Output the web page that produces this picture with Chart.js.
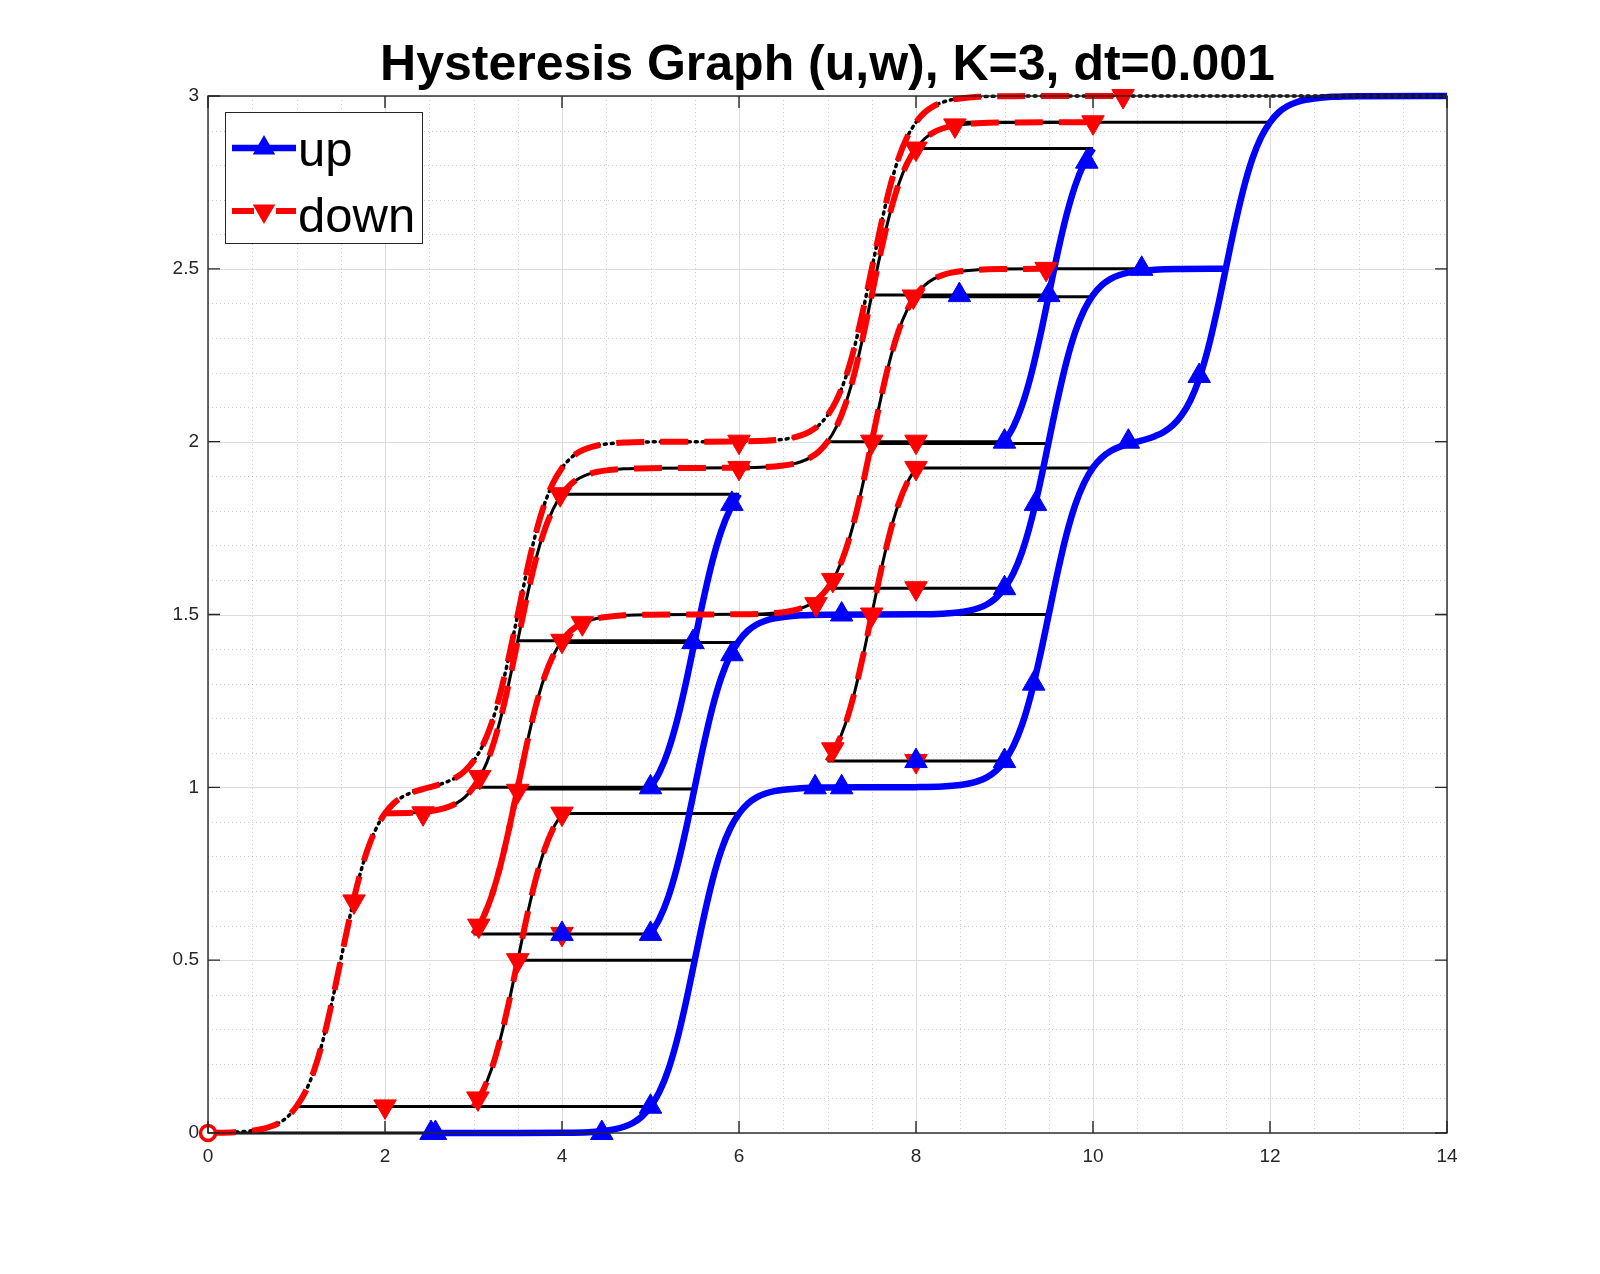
<!DOCTYPE html>
<html>
<head>
<meta charset="utf-8">
<script src="https://cdn.jsdelivr.net/npm/chart.js@4.4.1/dist/chart.umd.min.js"></script>
<style>
html,body{margin:0;padding:0;background:#fff;}
canvas{display:block;}
</style>
</head>
<body>
<canvas id="c" width="1600" height="1274"></canvas>
<script>
// ---------- data (u on x, w on y) ----------
const titleText = 'Hysteresis Graph (u,w), K=3, dt=0.001';
const seriesNames = ['up', 'down'];
const xTicks = [0, 2, 4, 6, 8, 10, 12, 14];
const xTickLabels = ['0', '2', '4', '6', '8', '10', '12', '14'];
const yTicks = [0, 0.5, 1, 1.5, 2, 2.5, 3];
const yTickLabels = ['0', '0.5', '1', '1.5', '2', '2.5', '3'];

// main ascending branch (blue)
const upMain = [[2.5,0],[3.5,0],[4.0,0.0006],[4.3,0.0025],[4.5,0.0067],[4.6,0.011],[4.7,0.018],[4.8,0.029],[4.9,0.047],[5.0,0.076],[5.1,0.119],[5.2,0.182],[5.3,0.269],[5.4,0.378],[5.5,0.5],[5.6,0.622],[5.7,0.731],[5.8,0.818],[5.9,0.881],[6.0,0.924],[6.1,0.953],[6.2,0.971],[6.3,0.982],[6.4,0.989],[6.5,0.993],[6.7,0.9975],[7.0,0.9994],[7.5,1.0],[8.0,1.0006],[8.3,1.0025],[8.5,1.0067],[8.6,1.011],[8.7,1.018],[8.8,1.029],[8.9,1.047],[9.0,1.076],[9.1,1.119],[9.2,1.182],[9.3,1.269],[9.4,1.378],[9.5,1.5],[9.6,1.622],[9.7,1.731],[9.8,1.818],[9.9,1.881],[10.0,1.925],[10.1,1.954],[10.2,1.973],[10.3,1.985],[10.4,1.993],[10.5,2.0],[10.6,2.007],[10.7,2.016],[10.8,2.028],[10.9,2.047],[11.0,2.076],[11.1,2.119],[11.2,2.182],[11.3,2.269],[11.4,2.378],[11.5,2.5],[11.6,2.622],[11.7,2.731],[11.8,2.818],[11.9,2.881],[12.0,2.924],[12.1,2.953],[12.2,2.971],[12.3,2.982],[12.4,2.989],[12.5,2.993],[12.7,2.9975],[13.0,2.9994],[14.0,3.0]];
// inner ascending branches (blue)
const upInnerA = [[5.0,0.576],[5.1,0.619],[5.2,0.682],[5.3,0.769],[5.4,0.878],[5.5,1.0],[5.6,1.122],[5.7,1.231],[5.8,1.318],[5.9,1.381],[6.0,1.424],[6.1,1.453],[6.2,1.471],[6.3,1.482],[6.4,1.489],[6.5,1.493],[6.7,1.4975],[7.0,1.4994],[8.0,1.5006],[8.3,1.5025],[8.5,1.5067],[8.6,1.511],[8.7,1.518],[8.8,1.529],[8.9,1.547],[9.0,1.576],[9.1,1.619],[9.2,1.682],[9.3,1.769],[9.4,1.878],[9.5,2.0],[9.6,2.122],[9.7,2.231],[9.8,2.318],[9.9,2.381],[10.0,2.424],[10.1,2.453],[10.2,2.471],[10.3,2.482],[10.4,2.489],[10.5,2.493],[10.7,2.4975],[11.0,2.4994],[11.5,2.5]];
const upInnerB = [[5.0,1.0],[5.1,1.043],[5.2,1.106],[5.3,1.193],[5.4,1.302],[5.5,1.424],[5.6,1.546],[5.7,1.655],[5.8,1.742],[5.9,1.805],[6.0,1.848]];
const upInnerC = [[9.0,2.0],[9.1,2.043],[9.2,2.106],[9.3,2.193],[9.4,2.302],[9.5,2.424],[9.6,2.546],[9.7,2.655],[9.8,2.742],[9.9,2.805],[10.0,2.848]];

// main descending branch (red, black dotted underneath)
const downMain = [[0,0],[0.3,0.0025],[0.5,0.0067],[0.6,0.011],[0.7,0.018],[0.8,0.029],[0.9,0.047],[1.0,0.077],[1.1,0.119],[1.2,0.182],[1.3,0.269],[1.4,0.378],[1.5,0.5],[1.6,0.622],[1.7,0.731],[1.8,0.818],[1.9,0.881],[2.0,0.925],[2.1,0.954],[2.2,0.973],[2.3,0.985],[2.4,0.993],[2.5,1.0],[2.6,1.007],[2.7,1.016],[2.8,1.028],[2.9,1.047],[3.0,1.076],[3.1,1.119],[3.2,1.182],[3.3,1.269],[3.4,1.378],[3.5,1.5],[3.6,1.622],[3.7,1.731],[3.8,1.818],[3.9,1.881],[4.0,1.924],[4.1,1.953],[4.2,1.971],[4.3,1.982],[4.4,1.989],[4.5,1.993],[4.7,1.9975],[5.0,1.9994],[5.5,2.0],[6.0,2.0006],[6.3,2.0025],[6.5,2.0067],[6.6,2.011],[6.7,2.018],[6.8,2.029],[6.9,2.047],[7.0,2.076],[7.1,2.119],[7.2,2.182],[7.3,2.269],[7.4,2.378],[7.5,2.5],[7.6,2.622],[7.7,2.731],[7.8,2.818],[7.9,2.881],[8.0,2.924],[8.1,2.953],[8.2,2.971],[8.3,2.982],[8.4,2.989],[8.5,2.993],[8.7,2.9975],[9.0,2.9994],[10.34,3.0],[14.0,3.0]];
const downRedEnd = 10.34;
// inner descending branches (red, black solid underneath)
const downInnerA = [[2.0,0.925],[2.3,0.9265],[2.5,0.931],[2.6,0.935],[2.7,0.942],[2.8,0.953],[2.9,0.971],[3.0,1.0],[3.1,1.043],[3.2,1.106],[3.3,1.193],[3.4,1.302],[3.5,1.424],[3.6,1.546],[3.7,1.655],[3.8,1.742],[3.9,1.805],[4.0,1.848],[4.1,1.877],[4.2,1.895],[4.3,1.906],[4.4,1.913],[4.5,1.917],[4.7,1.9215],[5.0,1.9234],[6.0,1.9246],[6.3,1.9265],[6.5,1.931],[6.6,1.935],[6.7,1.942],[6.8,1.953],[6.9,1.971],[7.0,2.0],[7.1,2.043],[7.2,2.106],[7.3,2.193],[7.4,2.302],[7.5,2.424],[7.6,2.546],[7.7,2.655],[7.8,2.742],[7.9,2.805],[8.0,2.848],[8.1,2.877],[8.2,2.895],[8.3,2.906],[8.4,2.913],[8.5,2.917],[8.7,2.9215],[9.0,2.9234],[10.0,2.924]];
const downInnerB = [[3.0,0.576],[3.1,0.619],[3.2,0.682],[3.3,0.769],[3.4,0.878],[3.5,1.0],[3.6,1.122],[3.7,1.231],[3.8,1.318],[3.9,1.381],[4.0,1.424],[4.1,1.453],[4.2,1.471],[4.3,1.482],[4.4,1.489],[4.5,1.493],[4.7,1.4975],[5.0,1.4994],[6.0,1.5006],[6.3,1.5025],[6.5,1.5067],[6.6,1.511],[6.7,1.518],[6.8,1.529],[6.9,1.547],[7.0,1.576],[7.1,1.619],[7.2,1.682],[7.3,1.769],[7.4,1.878],[7.5,2.0],[7.6,2.122],[7.7,2.231],[7.8,2.318],[7.9,2.381],[8.0,2.424],[8.1,2.453],[8.2,2.471],[8.3,2.482],[8.4,2.489],[8.5,2.493],[8.7,2.4975],[9.0,2.4994],[9.5,2.5]];
const downInnerBRepeatEnd = 3.6;   // this stretch is traversed twice (looks solid)
const downInnerC = [[7.0,1.076],[7.1,1.119],[7.2,1.182],[7.3,1.269],[7.4,1.378],[7.5,1.5],[7.6,1.622],[7.7,1.731],[7.8,1.818],[7.9,1.881],[8.0,1.924]];
const downInnerD = [[3.0,0.076],[3.1,0.119],[3.2,0.182],[3.3,0.269],[3.4,0.378],[3.5,0.5],[3.6,0.622],[3.7,0.731],[3.8,0.818],[3.9,0.881],[4.0,0.924]];

// constant-w stretches of the trajectory: [u from, u to, w]
const flats = [[0,2.6,0],[1.0,5.0,0.077],[3.5,5.5,0.5],[3.0,5.0,0.576],[4.0,6.0,0.924],[3.0,5.0,1.0],[3.5,5.5,0.995],[3.5,5.5,1.424],[4.0,6.0,1.419],[4.0,6.0,1.848],[6.0,9.5,1.5],[7.0,9.0,1.576],[7.0,9.0,1.076],[8.0,10.0,1.924],[7.0,9.0,2.0],[7.5,9.5,1.995],[7.5,9.5,2.424],[8.0,10.0,2.419],[9.5,11.5,2.5],[8.0,10.0,2.848],[8.5,12.0,2.924]];

// marker positions
const upMarkers = [[2.52,0],[2.57,0],[4.45,0],[5.0,0.076],[5.0,0.576],[5.0,1.0],[5.48,1.42],[5.92,1.385],[5.92,1.82],[4.0,0.576],[6.86,1.0],[7.16,1.0],[7.16,1.5],[8.0,1.076],[9.0,1.076],[9.33,1.3],[9.0,1.576],[9.35,1.82],[9.0,2.0],[9.5,2.424],[8.49,2.424],[9.93,2.81],[10.4,2.0],[10.55,2.5],[11.2,2.19]];
const downMarkers = [[1.65,0.67],[2.0,0.077],[2.43,0.925],[3.05,0.1],[3.06,0.6],[3.07,1.03],[3.5,0.5],[3.5,0.99],[4.0,0.924],[4.0,0.576],[4.0,1.424],[3.98,1.848],[4.23,1.475],[6.0,2.0],[6.0,1.924],[6.87,1.53],[7.06,1.6],[7.06,1.11],[7.5,2.0],[7.5,1.5],[8.0,2.0],[8.0,1.924],[8.0,1.576],[8.0,1.076],[7.97,2.42],[8.0,2.848],[8.44,2.915],[9.47,2.5],[10.0,2.924],[10.34,3.0]];
const startPoint = [[0,0]];

// ---------- styles ----------
const BLUE = '#0000ff', RED = '#ff0000', BLACK = '#000000', AXIS = '#262626';
const FONT = "'Liberation Sans', Arial, Helvetica, sans-serif";
const xy = a => a.map(p => ({x: p[0], y: p[1]}));

const datasets = [];
flats.forEach(f => datasets.push({data: [{x: f[0], y: f[2]}, {x: f[1], y: f[2]}], borderColor: BLACK, borderWidth: 3, order: 6}));
[downInnerA, downInnerB, downInnerC, downInnerD].forEach(c => datasets.push({data: xy(c), borderColor: BLACK, borderWidth: 3, cubicInterpolationMode: 'monotone', order: 6}));
[upMain, upInnerA, upInnerB, upInnerC].forEach(c => datasets.push({data: xy(c), borderColor: BLUE, borderWidth: 6.5, cubicInterpolationMode: 'monotone', order: 5}));
datasets.push({data: xy(downMain), borderColor: BLACK, borderWidth: 3.5, borderDash: [2, 5], borderCapStyle: 'round', cubicInterpolationMode: 'monotone', order: 4});
[downMain.filter(p => p[0] <= downRedEnd), downInnerA, downInnerB, downInnerC, downInnerD].forEach(c => datasets.push({data: xy(c), borderColor: RED, borderWidth: 6, borderDash: [28, 16], cubicInterpolationMode: 'monotone', order: 3}));
datasets.push({data: xy(downInnerB.filter(p => p[0] <= downInnerBRepeatEnd)), borderColor: RED, borderWidth: 6, borderDash: [28, 16], borderDashOffset: 22, cubicInterpolationMode: 'monotone', order: 3});
datasets.push({data: xy(downMarkers), showLine: false, pointStyle: 'triangle', rotation: 180, pointRadius: 13, backgroundColor: RED, borderColor: RED, borderWidth: 1, order: 2});
datasets.push({data: xy(upMarkers), showLine: false, pointStyle: 'triangle', pointRadius: 13, backgroundColor: BLUE, borderColor: BLUE, borderWidth: 1, order: 1});
datasets.push({data: xy(startPoint), showLine: false, pointStyle: 'circle', pointRadius: 7.5, backgroundColor: '#ffffff', borderColor: RED, borderWidth: 3.5, order: 0});
datasets.forEach(d => { d.clip = false; if (d.showLine !== false) { d.showLine = true; d.pointRadius = 0; d.pointHoverRadius = 0; } });

const framePlugin = {
  id: 'frame',
  beforeDraw(chart) {
    const ctx = chart.ctx;
    ctx.save();
    ctx.fillStyle = '#ffffff';
    ctx.fillRect(0, 0, chart.width, chart.height);
    ctx.restore();
  },
  beforeDatasetsDraw(chart) {
    const {ctx, chartArea: a, scales: {x, y}} = chart;
    ctx.save();
    ctx.lineWidth = 1;
    // minor grid (dotted)
    ctx.strokeStyle = 'rgba(0,0,0,0.2)';
    ctx.setLineDash([1, 3]);
    for (let k = 1; k < 28; k++) {
      const px = Math.round(x.getPixelForValue(k * 0.5)) + 0.5;
      ctx.beginPath(); ctx.moveTo(px, a.top); ctx.lineTo(px, a.bottom); ctx.stroke();
    }
    for (let k = 1; k < 30; k++) {
      const py = Math.round(y.getPixelForValue(k * 0.1)) + 0.5;
      ctx.beginPath(); ctx.moveTo(a.left, py); ctx.lineTo(a.right, py); ctx.stroke();
    }
    // major grid (solid)
    ctx.setLineDash([]);
    ctx.strokeStyle = '#dcdcdc';
    xTicks.forEach(v => {
      const px = Math.round(x.getPixelForValue(v)) + 0.5;
      ctx.beginPath(); ctx.moveTo(px, a.top); ctx.lineTo(px, a.bottom); ctx.stroke();
    });
    yTicks.forEach(v => {
      const py = Math.round(y.getPixelForValue(v)) + 0.5;
      ctx.beginPath(); ctx.moveTo(a.left, py); ctx.lineTo(a.right, py); ctx.stroke();
    });
    ctx.restore();
  },
  afterDraw(chart) {
    const {ctx, chartArea: a, scales: {x, y}} = chart;
    ctx.save();
    // axes box and inward ticks
    ctx.strokeStyle = AXIS;
    ctx.lineWidth = 1.4;
    ctx.strokeRect(a.left, a.top, a.right - a.left, a.bottom - a.top);
    const tl = 12;
    ctx.beginPath();
    xTicks.forEach(v => {
      const px = x.getPixelForValue(v);
      ctx.moveTo(px, a.bottom); ctx.lineTo(px, a.bottom - tl);
      ctx.moveTo(px, a.top); ctx.lineTo(px, a.top + tl);
    });
    yTicks.forEach(v => {
      const py = y.getPixelForValue(v);
      ctx.moveTo(a.left, py); ctx.lineTo(a.left + tl, py);
      ctx.moveTo(a.right, py); ctx.lineTo(a.right - tl, py);
    });
    ctx.stroke();

    // title
    ctx.fillStyle = '#000000';
    ctx.font = 'bold 50px ' + FONT;
    ctx.textAlign = 'center';
    ctx.textBaseline = 'alphabetic';
    ctx.fillText(titleText, (a.left + a.right) / 2, 80);

    // legend
    const bx = 225.5, by = 112.5, bw = 197, bh = 131;
    ctx.fillStyle = '#ffffff';
    ctx.fillRect(bx, by, bw, bh);
    ctx.strokeStyle = AXIS;
    ctx.lineWidth = 1;
    ctx.strokeRect(bx, by, bw, bh);
    const lx0 = 232, lx1 = 296, lxm = (lx0 + lx1) / 2;
    const rows = [
      {y: 148, color: BLUE, dash: [], rot: 0, textY: 166},
      {y: 211, color: RED, dash: [22, 22], rot: 180, textY: 232}
    ];
    rows.forEach((r, i) => {
      ctx.save();
      ctx.strokeStyle = r.color;
      ctx.lineWidth = i === 0 ? 6.5 : 6;
      ctx.setLineDash(r.dash);
      ctx.beginPath(); ctx.moveTo(lx0, r.y); ctx.lineTo(lx1, r.y); ctx.stroke();
      ctx.restore();
      const rad = 13;
      ctx.save();
      ctx.translate(lxm, r.y);
      if (r.rot) ctx.rotate(Math.PI);
      ctx.fillStyle = r.color;
      ctx.beginPath();
      ctx.moveTo(0, -rad);
      ctx.lineTo(rad * Math.sin(2 * Math.PI / 3), -rad * Math.cos(2 * Math.PI / 3));
      ctx.lineTo(rad * Math.sin(4 * Math.PI / 3), -rad * Math.cos(4 * Math.PI / 3));
      ctx.closePath();
      ctx.fill();
      ctx.restore();
      ctx.fillStyle = '#000000';
      ctx.font = '49px ' + FONT;
      ctx.textAlign = 'left';
      ctx.textBaseline = 'alphabetic';
      ctx.fillText(seriesNames[i], 298, r.textY);
    });
    ctx.restore();
  }
};

new Chart(document.getElementById('c'), {
  type: 'scatter',
  data: {datasets},
  options: {
    responsive: false,
    devicePixelRatio: 1,
    animation: false,
    events: [],
    layout: {padding: {left: 0, top: 96, right: 153, bottom: 0}},
    plugins: {legend: {display: false}, tooltip: {enabled: false}, title: {display: false}},
    scales: {
      x: {
        type: 'linear', min: 0, max: 14,
        afterBuildTicks: s => { s.ticks = xTicks.map(v => ({value: v})); },
        afterFit: s => { s.height = 141; },
        grid: {display: false, drawTicks: false},
        border: {display: false},
        ticks: {padding: 12, color: AXIS, font: {family: FONT, size: 19}, maxRotation: 0, autoSkip: false,
          callback: (v, i) => xTickLabels[i]}
      },
      y: {
        type: 'linear', min: 0, max: 3,
        afterBuildTicks: s => { s.ticks = yTicks.map(v => ({value: v})); },
        afterFit: s => { s.width = 208; },
        grid: {display: false, drawTicks: false},
        border: {display: false},
        ticks: {padding: 9, color: AXIS, font: {family: FONT, size: 19}, autoSkip: false,
          callback: (v, i) => yTickLabels[i]}
      }
    }
  },
  plugins: [framePlugin]
});
</script>
</body>
</html>
